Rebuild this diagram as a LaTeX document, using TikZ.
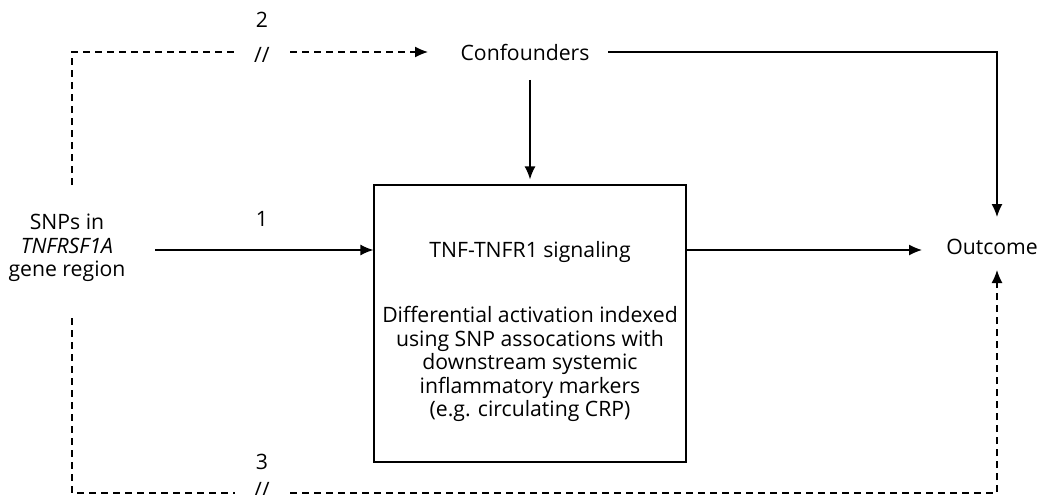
\documentclass[tikz,border=0pt]{standalone}
\usepackage{fontspec}
\setmainfont{Open Sans}
\usetikzlibrary{arrows.meta}

\begin{document}
\begin{tikzpicture}[x=1pt,y=-1pt,>={Latex[length=13pt,width=11pt]},
  every node/.style={font=\fontsize{21.2}{23.5}\selectfont},
  ln/.style={line width=1.3pt},
  dsh/.style={line width=1.3pt,dash pattern=on 7pt off 5pt}]

\useasboundingbox (0,0) rectangle (1039,495);

\node[align=center] (snp) at (67,248) {SNPs in\\\textit{TNFRSF1A}\\gene region};
\node (conf) at (525,52) {Confounders};
\node (out) at (992,247) {Outcome};
\node[draw,ln,minimum width=312pt,minimum height=277pt] (box) at (530,323.5) {};
\node (sig) at (530,252) {TNF-TNFR1 signaling};
\node[align=center] (diff) at (530,364) {Differential activation indexed\\using SNP assocations with\\downstream systemic\\inflammatory markers\\(e.g. circulating CRP)};

% corners of the paths round the box
\coordinate (tl) at (72,52);
\coordinate (tr) at (997,52);
\coordinate (bl) at (72,493);
\coordinate (br) at (997,493);

% 1: instrument -> exposure -> outcome
\draw[->,ln] (155,250)--(box.west |- 0,250);
\node (n1) at (262,219) {1};
\draw[->,ln] (box.east |- 0,250)--(922,250);
\draw[->,ln,shorten >=5pt] (box.north |- 0,80)--(box.north);
\draw[->,ln] (conf.east -| 608,0)--(tr)--(997,217);

% 2: instrument -> confounders
\draw[dsh] (72,185)--(tl)--(235,52);
\draw[dsh,->] (290,52)--(428,52);
\node (n2) at (262,20) {2};
\node (s2) at (262,55) {//};

% 3: instrument -> outcome
\draw[dsh] (72,318)--(bl)--(235,493);
\draw[dsh,->] (290,493)--(br)--(997,270);
\node (n3) at (262,462) {3};
\node (s3) at (262,490) {//};

\end{tikzpicture}
\end{document}
